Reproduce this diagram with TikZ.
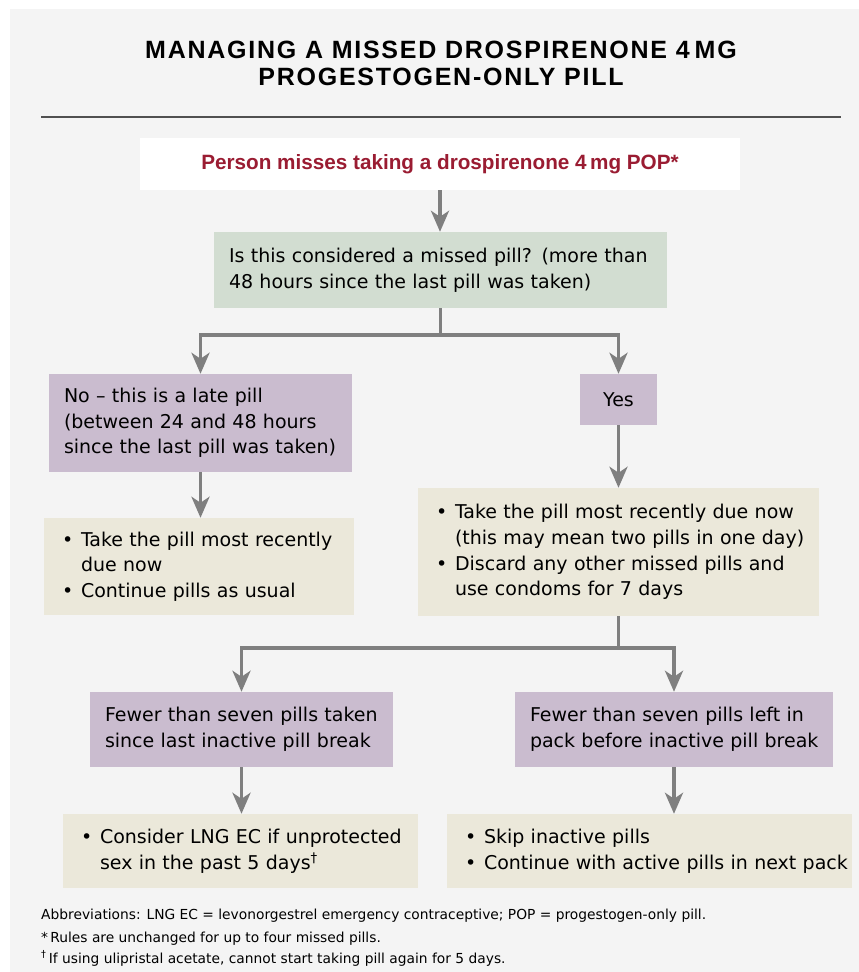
\documentclass[tikz,border=0pt]{standalone}
\usepackage{fontspec}
\setmainfont{DejaVu Sans}
\newfontfamily\titlefont{Liberation Sans}[LetterSpace=7]
\newfontfamily\headfont{Liberation Sans}
\usetikzlibrary{arrows.meta}
\definecolor{panel}{HTML}{F4F4F4}
\definecolor{qgreen}{HTML}{D2DDD1}
\definecolor{mauve}{HTML}{CABCCF}
\definecolor{beige}{HTML}{EBE8DA}
\definecolor{conn}{HTML}{7F7F7F}
\definecolor{pred}{HTML}{9A1C32}
\definecolor{rulec}{HTML}{505050}
\newcommand{\bl}{\makebox[19pt][l]{\textbullet}}
\newcommand{\ind}{\hspace*{19pt}}
\newcommand{\tl}[1]{\mbox{#1}}
\tikzset{
  box/.style={rectangle, inner ysep=0pt, inner xsep=15pt, align=left,
    font=\fontsize{19}{25.7}\selectfont, text=black},
  qbox/.style={box, fill=qgreen},
  pbox/.style={box, fill=mauve},
  bbox/.style={box, fill=beige, inner xsep=18pt},
  conline/.style={draw=conn, line width=3.6pt, line join=miter},
  conarrow/.style={conline, -{Stealth[length=21pt,width=18pt,inset=6pt]}},
  foot/.style={anchor=base west, inner sep=0pt, font=\fontsize{13.8}{16}\selectfont}
}
\begin{document}
\begin{tikzpicture}[x=1pt,y=-1pt]
\useasboundingbox (0,0) rectangle (859,972);
\fill[panel] (10,9) rectangle (859,972);
% title
\node[inner sep=0pt, align=center, font=\titlefont\bfseries\fontsize{25}{27}\selectfont] (title) at (441,63)
  {MANAGING A MISSED DROSPIRENONE 4\hspace{5pt}MG\\PROGESTOGEN-ONLY PILL};
\coordinate (rl) at (41,117);
\coordinate (rr) at (841,117);
\draw[rulec, line width=2pt] (rl) -- (rr);
% nodes
\node[rectangle, fill=white, minimum width=600pt, minimum height=52pt, inner sep=0pt,
  text=pred, font=\headfont\bfseries\fontsize{20.7}{24}\selectfont] (start) at (440,164)
  {Person misses taking a drospirenone 4\,mg POP*};
\node[qbox, text width=423pt, minimum height=76pt] (q) at (440.5,270)
  {\tl{Is this considered a missed pill? (more than}\\\tl{48 hours since the last pill was taken)}};
\node[pbox, text width=273pt, minimum height=98pt] (no) at (200.5,423)
  {\tl{No -- this is a late pill}\\\tl{(between 24 and 48 hours}\\\tl{since the last pill was taken)}};
\node[pbox, align=center, minimum width=77pt, minimum height=51pt, inner xsep=0pt] (yes) at (618.5,399.5)
  {Yes};
\node[bbox, text width=274pt, minimum height=97pt] (late) at (199,566.5)
  {\tl{\bl Take the pill most recently}\\\tl{\ind due now}\\\tl{\bl Continue pills as usual}};
\node[bbox, text width=365pt, minimum height=128pt] (take) at (618.5,552)
  {\tl{\bl Take the pill most recently due now}\\\tl{\ind (this may mean two pills in one day)}\\\tl{\bl Discard any other missed pills and}\\\tl{\ind use condoms for 7 days}};
\node[pbox, text width=273pt, minimum height=75pt] (ftaken) at (241.5,729.5)
  {\tl{Fewer than seven pills taken}\\\tl{since last inactive pill break}};
\node[pbox, text width=288pt, minimum height=75pt] (fleft) at (674,729.5)
  {\tl{Fewer than seven pills left in}\\\tl{pack before inactive pill break}};
\node[bbox, text width=319pt, minimum height=74pt] (lng) at (240.5,851)
  {\tl{\bl Consider LNG EC if unprotected}\\\tl{\ind sex in the past 5 days\textsuperscript{\dag}}};
\node[bbox, text width=369pt, minimum height=74pt] (skip) at (649.5,851)
  {\tl{\bl Skip inactive pills}\\\tl{\bl Continue with active pills in next pack}};
% connectors
\coordinate (b1) at (440.5,335);
\coordinate (b2) at (618.5,648);
\draw[conarrow] (start.south) -- (start.south |- q.north);
\draw[conline] (q.south) -- (b1);
\draw[conarrow] (b1) -| (no.north);
\draw[conarrow] (b1) -| (yes.north);
\draw[conarrow] (no.south) -- (no.south |- late.north);
\draw[conarrow] (yes.south) -- (yes.south |- take.north);
\draw[conline] (take.south) -- (b2);
\draw[conarrow] (b2) -| (ftaken.north);
\draw[conarrow] (b2) -| (fleft.north);
\draw[conarrow] (ftaken.south) -- (ftaken.south |- lng.north);
\draw[conarrow] (fleft.south) -- (fleft.south |- skip.north);
% footnotes
\node[foot] (f1) at (41,919) {Abbreviations: LNG EC = levonorgestrel emergency contraceptive; POP = progestogen-only pill.};
\node[foot] (f2) at (41,942) {*\,Rules are unchanged for up to four missed pills.};
\node[foot] (f3) at (41,963) {\textsuperscript{\dag}\,If using ulipristal acetate, cannot start taking pill again for 5 days.};
\end{tikzpicture}
\end{document}
